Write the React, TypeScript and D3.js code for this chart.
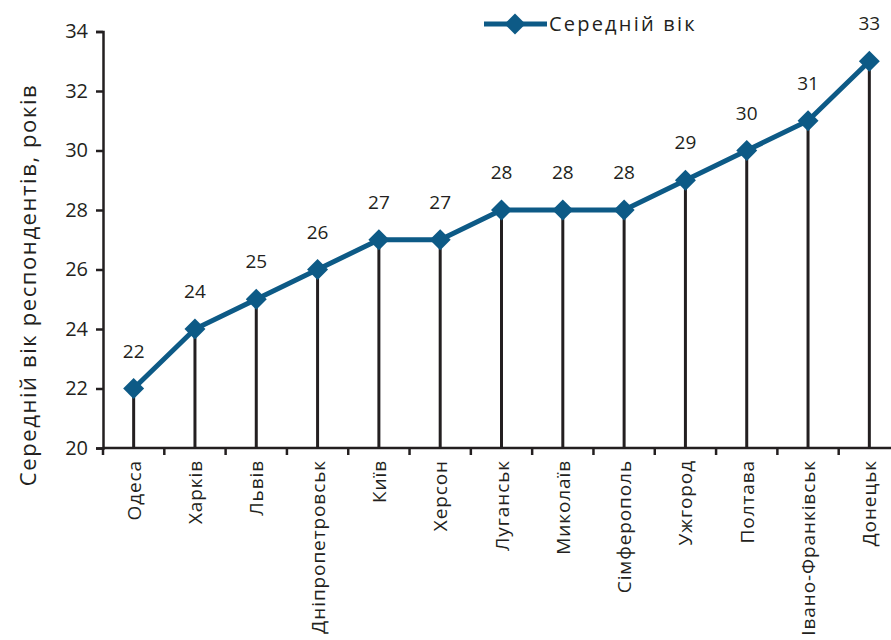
import * as d3 from 'd3';
import { useEffect, useRef } from 'react';

const cities = ['Одеса', 'Харків', 'Львів', 'Дніпропетровськ', 'Київ', 'Херсон', 'Луганськ', 'Миколаїв', 'Сімферополь', 'Ужгород', 'Полтава', 'Івано-Франківськ', 'Донецьк'];
const ages = [22, 24, 25, 26, 27, 27, 28, 28, 28, 29, 30, 31, 33];
const yTicks = [20, 22, 24, 26, 28, 30, 32, 34];
const seriesName = 'Середній вік';
const yTitle = 'Середній вік респондентів, років';

export default function App() {
  const svgRef = useRef<SVGSVGElement>(null);

  useEffect(() => {
    if (svgRef.current) drawChart(svgRef.current);
  }, []);

  return (
    <div style={{ position: 'absolute', left: 0, top: 0 }}>
      <svg ref={svgRef}></svg>
    </div>
  );
}

function drawChart(el: SVGSVGElement) {
  const w = 891;
  const h = 640;
  const ink = '#231f20';
  const blue = '#0d5a86';
  const font = '"Open Sans", "DejaVu Sans", sans-serif';

  const svg = d3.select(el).attr('width', w).attr('height', h).style('display', 'block');
  svg.selectAll('*').remove();

  const x = d3.scaleBand().domain(cities).range([103, 900]);
  const y = d3.scaleLinear().domain([20, 34]).range([448, 31.5]);

  // y axis
  const yAxis = svg.append('g')
    .attr('transform', 'translate(103,0)')
    .call(d3.axisLeft(y).tickValues(yTicks).tickSize(7).tickPadding(8));
  yAxis.select('.domain').attr('stroke', ink).attr('stroke-width', 2.5);
  yAxis.selectAll('.tick line').attr('stroke', ink).attr('stroke-width', 2.5);
  yAxis.selectAll('.tick text')
    .attr('fill', ink).style('font-family', font).style('font-size', '20px');

  // x axis: ticks at band boundaries
  const xg = svg.append('g').attr('transform', 'translate(0,448)');
  xg.append('line')
    .attr('x1', 103).attr('x2', 900)
    .attr('stroke', ink).attr('stroke-width', 2.5);
  xg.selectAll('line.tk')
    .data(cities)
    .join('line')
    .attr('class', 'tk')
    .attr('x1', d => x(d)!).attr('x2', d => x(d)!)
    .attr('y1', 0).attr('y2', 7)
    .attr('stroke', ink).attr('stroke-width', 2.5);
  xg.selectAll('text')
    .data(cities)
    .join('text')
    .attr('transform', d => `translate(${x(d)! + x.bandwidth() / 2 + 7},12) rotate(-90)`)
    .attr('text-anchor', 'end')
    .attr('fill', ink)
    .style('font-family', font)
    .style('font-size', '19px')
    .style('letter-spacing', '0.9px')
    .text(d => d);

  const data = cities.map((c, i) => ({ c, v: ages[i] }));
  const cx = (d: { c: string }) => x(d.c)! + x.bandwidth() / 2;

  // drop lines
  svg.append('g').selectAll('line')
    .data(data)
    .join('line')
    .attr('x1', cx).attr('x2', cx)
    .attr('y1', d => y(d.v)).attr('y2', y(20))
    .attr('stroke', ink).attr('stroke-width', 3);

  const line = d3.line<{ c: string; v: number }>()
    .x(cx)
    .y(d => y(d.v));

  svg.append('path')
    .datum(data)
    .attr('d', line)
    .attr('fill', 'none')
    .attr('stroke', blue)
    .attr('stroke-width', 5);

  const diamond = d3.symbol().type(d3.symbolSquare).size(220);
  svg.append('g').selectAll('path')
    .data(data)
    .join('path')
    .attr('d', diamond)
    .attr('transform', d => `translate(${cx(d)},${y(d.v)}) rotate(45)`)
    .attr('fill', blue);

  // value labels
  svg.append('g').selectAll('text')
    .data(data)
    .join('text')
    .attr('x', cx)
    .attr('y', d => y(d.v) - 31)
    .attr('text-anchor', 'middle')
    .attr('fill', ink)
    .style('font-family', font)
    .style('font-size', '19px')
    .text(d => d.v);

  // legend
  const lg = svg.append('g').attr('transform', 'translate(484,24)');
  lg.append('line').attr('x1', 0).attr('x2', 63).attr('stroke', blue).attr('stroke-width', 5);
  lg.append('path').attr('d', diamond).attr('transform', 'translate(31,0) rotate(45)').attr('fill', blue);
  lg.append('text')
    .attr('x', 65).attr('y', 7)
    .attr('fill', ink)
    .style('font-family', font)
    .style('font-size', '20px')
    .style('letter-spacing', '2.2px')
    .text(seriesName);

  // y title
  svg.append('text')
    .attr('transform', 'translate(36,285) rotate(-90)')
    .attr('text-anchor', 'middle')
    .attr('fill', ink)
    .style('font-family', font)
    .style('font-size', '22px')
    .style('letter-spacing', '1.6px')
    .text(yTitle);
}
